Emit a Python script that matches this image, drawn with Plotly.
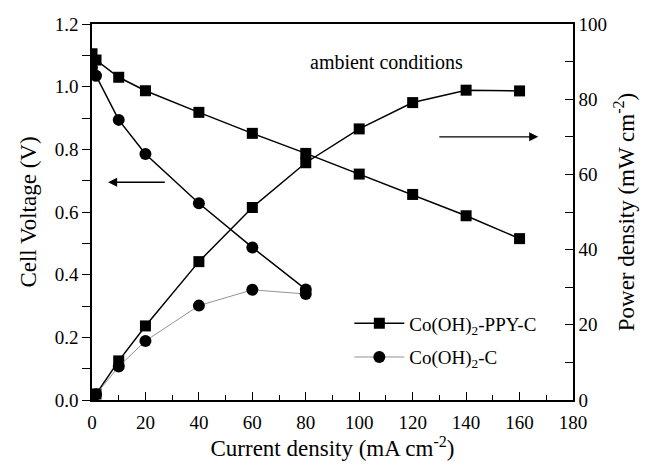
import plotly.graph_objects as go

# Current density (mA cm-2)
I_ppy = [0, 1.5, 10, 20, 40, 60, 80, 100, 120, 140, 160]
V_ppy = [1.105, 1.085, 1.030, 0.987, 0.918, 0.851, 0.787, 0.721, 0.656, 0.588, 0.515]
P_ppy = [0, 1.6, 10.4, 19.7, 36.8, 51.2, 63.1, 72.1, 79.1, 82.4, 82.2]

I_c = [0, 1.5, 10, 20, 40, 60, 80]
V_c = [1.06, 1.035, 0.894, 0.785, 0.628, 0.487, 0.353]
P_c = [0, 1.5, 8.9, 15.7, 25.1, 29.3, 28.2]

FONT = "Liberation Serif, Times New Roman, Times, serif"
FS = 19

fig = go.Figure()

fig.add_trace(go.Scatter(x=I_ppy, y=V_ppy, mode="lines+markers", name="Co(OH)<sub>2</sub>-PPY-C",
                         line=dict(color="black", width=1.5),
                         marker=dict(symbol="square", size=11, color="black"),
                         legend="legend", showlegend=True))
fig.add_trace(go.Scatter(x=I_c, y=V_c, mode="lines+markers", name="Co(OH)2-C V",
                         line=dict(color="black", width=1.5),
                         marker=dict(symbol="circle", size=12, color="black"),
                         showlegend=False))
fig.add_trace(go.Scatter(x=I_ppy, y=P_ppy, mode="lines+markers", name="PPY P",
                         line=dict(color="black", width=1.5),
                         marker=dict(symbol="square", size=11, color="black"),
                         yaxis="y2", showlegend=False))
fig.add_trace(go.Scatter(x=I_c, y=P_c, mode="lines+markers", name="Co(OH)<sub>2</sub>-C",
                         line=dict(color="#777777", width=0.8),
                         marker=dict(symbol="circle", size=12, color="black"),
                         yaxis="y2", legend="legend2", showlegend=True))

fig.update_layout(
    width=647, height=466,
    margin=dict(l=92, r=65, t=24, b=66),
    paper_bgcolor="white", plot_bgcolor="white",
    font=dict(family=FONT, size=FS, color="black"),
    xaxis=dict(range=[0, 180], dtick=20, tick0=0, ticks="inside", ticklen=8, tickwidth=1.2,
               tickcolor="black", showline=True, linecolor="black", linewidth=1.5, mirror=True,
               showgrid=False, zeroline=False, ticklabelstandoff=4,
               minor=dict(dtick=10, ticks="inside", ticklen=5, tickwidth=1.2, tickcolor="black"),
               title=dict(text="Current density (mA cm<sup>-2</sup>)", standoff=5)),
    yaxis=dict(range=[0, 1.2], dtick=0.2, tick0=0, tickformat=".1f", ticks="outside", ticklen=8,
               tickwidth=1.2, tickcolor="black", showline=True, linecolor="black", linewidth=1.5,
               showgrid=False, zeroline=False,
               minor=dict(dtick=0.1, ticks="outside", ticklen=8, tickwidth=1.2, tickcolor="black"),
               title=dict(text="Cell Voltage (V)", standoff=12)),
    yaxis2=dict(range=[0, 100], dtick=20, tick0=0, overlaying="y", side="right", ticks="inside",
                ticklen=8, tickwidth=1.2, tickcolor="black", showline=True, linecolor="black",
                linewidth=1.5, showgrid=False, zeroline=False,
                minor=dict(dtick=10, ticks="inside", ticklen=8, tickwidth=1.2, tickcolor="black"),
                title=dict(text="Power density (mW cm<sup>-2</sup>)", standoff=12)),
    legend=dict(x=0.535, y=0.204, xanchor="left", yanchor="middle", bgcolor="rgba(0,0,0,0)",
                font=dict(family=FONT, size=FS), itemwidth=50),
    legend2=dict(x=0.535, y=0.114, xanchor="left", yanchor="middle", bgcolor="rgba(0,0,0,0)",
                 font=dict(family=FONT, size=FS), itemwidth=50),
    showlegend=True,
)

fig.add_annotation(text="ambient conditions", xref="paper", yref="paper", x=0.776, y=0.933,
                   showarrow=False, font=dict(family=FONT, size=20))
# left-pointing arrow (voltage axis)
fig.add_annotation(x=6, y=0.695, ax=27.8, ay=0.695, xref="x", yref="y", axref="x", ayref="y",
                   text="", showarrow=True, arrowhead=2, arrowsize=1.4, arrowwidth=1.3,
                   arrowcolor="black")
# right-pointing arrow (power axis)
fig.add_annotation(x=167, y=70, ax=129.4, ay=70, xref="x", yref="y2", axref="x", ayref="y2",
                   text="", showarrow=True, arrowhead=2, arrowsize=1.4, arrowwidth=1.3,
                   arrowcolor="black")

fig.write_html("out.html")
